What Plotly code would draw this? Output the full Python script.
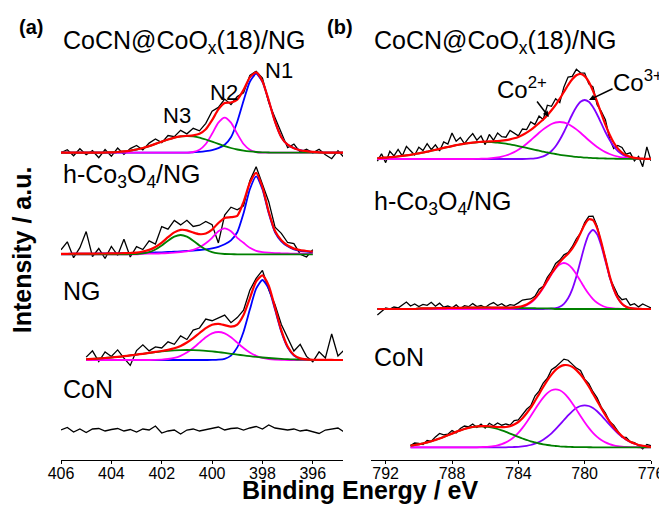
import numpy as np
import plotly.graph_objects as go

FONT = "Liberation Sans, Arial, Helvetica, sans-serif"
STEP = 0.25  # eV spacing of the sampled spectra

# ---------------- panel (a): N 1s ----------------
# CoCN@CoOx(18)/NG
a1_range = [406.0, 394.75]
a1_N1_start, a1_N1 = 400.75, [0.4, 0.8, 1.5, 2.5, 4.5, 8, 15.5, 31, 52, 71, 79, 71, 52, 31, 15.5, 8, 4.5, 2.5, 1.5, 0.8, 0.4]
a1_N2_start, a1_N2 = 401.0, [0.15, 0.7, 3.0, 8.7, 18.9, 30, 35, 30, 18.9, 8.7, 3.0, 0.7, 0.15]
a1_N3_start, a1_N3 = 404.25, [0.2, 0.4, 0.7, 1.3, 2.1, 3.2, 4.7, 6.6, 8.8, 11.1, 13.2, 15.1, 16.3, 16.7, 16.3, 15.1, 13.2, 11.1, 8.8, 6.6, 4.7, 3.2, 2.1, 1.3, 0.7, 0.4, 0.2]
a1_res = [0, 3, -3, 4, -2, 2, -5, 3, -4, 4, -3, 2, 4, -2, 3, 5, -1, 4, 1, 6, 2, 7, 3, 6, 9, 2, 4, -2, 3, -3,
          2, 1, 3, -2, 4, 5, -3, 4, -2, 2, -1, 3, -2, -6, 2, -5]

# h-Co3O4/NG
a2_range = [406.0, 396.0]
a2_N1_start, a2_N1 = 406.0, [0.5, 0.5, 0.6, 0.6, 0.7, 0.7, 0.8, 0.8, 0.9, 1.0, 1.1, 1.2, 1.3, 1.4, 1.6, 1.8, 2.0, 2.3, 2.6, 2.9,
                             3.3, 3.7, 4.3, 5, 6, 7.5, 10, 14, 22, 41, 65, 78, 65, 41, 22, 13, 8, 5, 3.5, 2.8, 2.3]
a2_N2_start, a2_N2 = 402.75, [0.5, 0.6, 0.7, 0.9, 1.2, 1.6, 2.2, 3, 4.5, 7, 11, 16.5, 23, 26, 23, 16.5, 11.5, 6.5, 3.5, 2.2,
                              1.6, 1.2, 1.0, 0.8, 0.7, 0.6, 0.5, 0.4]
a2_N3_start, a2_N3 = 403.25, [0.1, 0.3, 0.85, 2.2, 4.8, 8.8, 13.6, 17.7, 19.3, 17.7, 13.6, 8.8, 4.8, 2.2, 0.85, 0.3, 0.1]
a2_res = [4, 12, -4, 6, 22, -3, 5, -5, 7, -2, 14, -4, 6, 2, 9, 3, 16, 8, 12, 5, 10, 6, 9, 12, 5, -20, 3, 10, 6, -4,
          2, 6, 3, 10, 4, 7, 3, 5, -4, -6, 2]

# NG
a3_range = [405.0, 394.75]
a3_N1_start, a3_N1 = 400.0, [0.05, 0.3, 1.2, 4.4, 12.6, 28.3, 50.4, 71.3, 80, 71.3, 50.4, 28.3, 12.6, 4.4, 1.2, 0.3, 0.05]
a3_N2_start, a3_N2 = 402.25, [0.15, 0.4, 1.0, 2.1, 4.2, 7.5, 12.0, 17.4, 22.7, 26.6, 28, 26.6, 22.7, 17.4, 12.0, 7.5, 4.2,
                              2.1, 1.0, 0.4, 0.15]
a3_N3_start, a3_N3 = 405.0, [0.85, 1.1, 1.5, 2.0, 2.5, 3.1, 3.8, 4.6, 5.4, 6.2, 7.1, 7.9, 8.6, 9.2, 9.6, 9.9, 10, 9.9, 9.6,
                             9.2, 8.6, 7.9, 7.1, 6.2, 5.4, 4.6, 3.8, 3.1, 2.5, 2.0, 1.5, 1.1, 0.85, 0.6, 0.44, 0.3, 0.2,
                             0.13, 0.09, 0.05]
a3_res = [2, 8, -3, 6, 1, 7, -2, -10, 4, 9, 2, 5, 3, 8, 4, 10, 3, 8, 5, 9, 4, 6, 10, 4, 7, 5, 8, 3, 5, -4,
          3, 6, 9, 4, 14, 3, -2, 8, 2, 26, 4, 10]

# CoN (no N signal)
a4_range = [406.0, 394.75]
a4_res = [0, 2.5, -2, 1, -2.5, 1, 1.5, -1, 0.5, 1.5, -1, 0.5, -2, 1, 0, 4, -3, -1, 0, -4, 0, 1, -1, 0.5, 2, 3, 0,
          1.5, 2, 0, 2, 3.5, 1, 5, 2, 1, 0, 1, -1, 0, -2, -3.5, 0, 1, 2, -2]

a_offsets = [307.3, 205.7, 100.0, 30.0]
a_labels = ["CoCN@CoO<sub>x</sub>(18)/NG", "h-Co<sub>3</sub>O<sub>4</sub>/NG", "NG", "CoN"]
a_label_y = [418.0, 284.5, 169.5, 71.5]

# ---------------- panel (b): Co 2p3/2 ----------------
b1_range = [792.5, 776.0]
b1_Co3_start, b1_Co3 = 783.5, [0.12, 0.3, 0.65, 1.4, 2.6, 4.7, 8.0, 12.7, 19.2, 27.0, 35.8, 44.5, 52.0, 57.2, 59, 57.2, 52.0,
                               44.5, 35.8, 27.0, 19.2, 12.7, 8.0, 4.7, 2.6, 1.4, 0.65, 0.3, 0.12, 0.05, 0.02]
b1_Co2_start, b1_Co2 = 786.5, [0.14, 0.25, 0.4, 0.67, 1.06, 1.6, 2.4, 3.5, 5.0, 6.9, 9.2, 12.0, 15.2, 18.7, 22.5, 26.2, 29.6,
                               32.6, 35.0, 36.5, 37, 36.5, 35.0, 32.6, 29.6, 26.2, 22.5, 18.7, 15.2, 12.0, 9.2, 6.9, 5.0,
                               3.5, 2.4, 1.6, 1.06, 0.67, 0.4, 0.25, 0.14, 0.08, 0.04]
b1_sat_start, b1_sat = 792.5, [0.9, 1.2, 1.4, 1.8, 2.1, 2.6, 3.1, 3.6, 4.2, 5.0, 5.7, 6.5, 7.3, 8.3, 9.2, 10.1, 11.1, 12.0,
                               12.9, 13.8, 14.6, 15.3, 15.9, 16.4, 16.7, 16.9, 17.0, 16.9, 16.7, 16.4, 15.9, 15.3, 14.6,
                               13.8, 12.9, 12.0, 11.1, 10.1, 9.2, 8.3, 7.3, 6.5, 5.7, 5.0, 4.2, 3.6, 3.1, 2.6, 2.1, 1.8,
                               1.4, 1.2, 0.9, 0.77, 0.6, 0.48, 0.36, 0.29, 0.21, 0.17, 0.12, 0.09, 0.07, 0.05, 0.04, 0.03,
                               0.02]
b1_res = [-3, 4, -5, 6, 1, 7, 0, 9, 4, -1, 6, 2, 8, 1, 5, -2, 6, 3, 13, 4, 7, 0, 5, 9, 2, 6, -3, 7, 1, 8, 4, 3, 9, 5,
          1, 6, 3, 8, 2, 7, 0, 10, 4, 6, -4, 5, 8, 3, 6, 1, 3, -2, 4, -3, 2, 5, -4, -6, 3, 5, 1, 4, -3, 2, -8, 12, -2]

b2_range = [792.5, 776.0]
b2_Co3_start, b2_Co3 = 782.25, [0.1, 0.3, 0.87, 2.3, 5.2, 10.7, 19.7, 32.5, 48.0, 63.3, 74.7, 79, 74.7, 63.3, 48.0, 32.5,
                                19.7, 10.7, 5.2, 2.3, 0.87, 0.3, 0.1]
b2_Co2_start, b2_Co2 = 784.75, [0.1, 0.23, 0.5, 1.06, 2.0, 3.7, 6.2, 9.9, 15.0, 21.1, 27.9, 34.7, 40.6, 44.6, 46, 44.6,
                                40.6, 34.7, 27.9, 21.1, 15.0, 9.9, 6.2, 3.7, 2.0, 1.06, 0.5, 0.23, 0.1]
b2_sat_start, b2_sat = 790.0, [0.50, 0.56, 0.62, 0.69, 0.76, 0.83, 0.90, 0.98, 1.05, 1.13, 1.20, 1.28, 1.35, 1.40, 1.45,
                               1.49, 1.5, 1.49, 1.45, 1.40, 1.35, 1.28, 1.20, 1.13, 1.05, 0.98, 0.90, 0.83, 0.76, 0.69,
                               0.62, 0.56, 0.50]
b2_res = [-6, -2, 1, 0, 2, 1, 4, 7, 3, 5, 2, 4, 3, 6, 2, 5, 1, 2, 0, 3, -1, 2, 1, 4, 1, 2, 0, 3, 5, 2, 4, 1, 3, 2,
          4, 6, 5, 3, 2, 4, 1, 3, 2, 4, 2, 3, 1, 2, 3, 0, 2, 3, 4, 2, -1, 1, -2, 2, 3, 4, 8, 3, 5, 2, 5, 3, 1]

b3_range = [790.5, 776.0]
b3_Co3_start, b3_Co3 = 784.5, [0.17, 0.3, 0.5, 0.9, 1.5, 2.3, 3.6, 5.3, 7.6, 10.5, 14.0, 18.1, 22.6, 27.3, 31.9, 36.0, 39.2,
                               41.3, 42, 41.3, 39.2, 36.0, 31.9, 27.3, 22.6, 18.1, 14.0, 10.5, 7.6, 5.3, 3.6, 2.3, 1.5,
                               0.9, 0.5]
b3_Co2_start, b3_Co2 = 786.25, [0.23, 0.41, 0.73, 1.2, 2.0, 3.2, 4.9, 7.3, 10.4, 14.4, 19.4, 25.1, 31.3, 37.8, 44.1, 49.7,
                                54.2, 57.0, 58, 57.0, 54.2, 49.7, 44.1, 37.8, 31.3, 25.1, 19.4, 14.4, 10.4, 7.3, 4.9, 3.2,
                                2.0, 1.2, 0.73, 0.41, 0.23, 0.12, 0.06, 0.03, 0.015, 0.007]
b3_sat_start, b3_sat = 790.5, [1.7, 2.3, 3.0, 3.8, 4.9, 6.0, 7.4, 8.8, 10.4, 12.1, 13.7, 15.4, 16.9, 18.3, 19.4, 20.3, 20.8,
                               21, 20.8, 20.3, 19.4, 18.3, 16.9, 15.4, 13.7, 12.1, 10.4, 8.8, 7.4, 6.0, 4.9, 3.8, 3.0, 2.3,
                               1.7, 1.3, 0.9, 0.65, 0.46, 0.3, 0.2, 0.14, 0.09, 0.06]
b3_res = [0, 2, 1, -1, 2, 0, 3, 5, 2, 1, 3, -1, 2, 3, 1, 3, -1, 2, -2, 3, 1, 4, 2, 3, 1, 4, 2, 3, 4, 2, 5, 3, 4, 2,
          5, 3, 4, 6, 5, 3, 2, 4, 1, 3, 2, 3, 1, 2, 0, 2, 1, -1, 2, 0, 1, -1, -3, 2, 1]

b_offsets = [301.0, 151.0, 12.7]
b_labels = ["CoCN@CoO<sub>x</sub>(18)/NG", "h-Co<sub>3</sub>O<sub>4</sub>/NG", "CoN"]
b_label_y = [418.0, 257.0, 103.5]

C_A = ["#0000ff", "#ff00ff", "#008000"]       # N1, N2, N3
C_B = ["#8000ff", "#ff00ff", "#008000"]       # Co3+, Co2+, satellite


def make_grid(rng):
    n = int(round((rng[0] - rng[1]) / STEP)) + 1
    return np.round(rng[0] - STEP * np.arange(n), 3)


def on_grid(grid, start, vals):
    out = np.zeros(len(grid))
    i0 = int(round((grid[0] - start) / STEP))
    for k, v in enumerate(vals):
        j = i0 + k
        if 0 <= j < len(grid):
            out[j] = v
    return out


fig = go.Figure()


def add_spectrum(xa, ya, rng, offset, comps, colors, residual):
    grid = make_grid(rng)
    comp_arr = [on_grid(grid, s, v) for s, v in comps]
    fit = np.zeros(len(grid))
    for c in comp_arr:
        fit = fit + c
    data = fit + np.array(residual, dtype=float)
    fig.add_trace(go.Scatter(x=grid, y=data + offset, mode="lines", xaxis=xa, yaxis=ya,
                             line=dict(color="black", width=1.3), hoverinfo="skip"))
    if comps:
        for c, col in zip(comp_arr, colors):
            fig.add_trace(go.Scatter(x=grid, y=c + offset, mode="lines", xaxis=xa, yaxis=ya,
                                     line=dict(color=col, width=1.8, shape="spline", smoothing=0.6),
                                     hoverinfo="skip"))
        fig.add_trace(go.Scatter(x=grid, y=fit + offset, mode="lines", xaxis=xa, yaxis=ya,
                                 line=dict(color="#ff0000", width=2.2, shape="spline", smoothing=0.6),
                                 hoverinfo="skip"))


add_spectrum("x", "y", a1_range, a_offsets[0],
             [(a1_N1_start, a1_N1), (a1_N2_start, a1_N2), (a1_N3_start, a1_N3)], C_A, a1_res)
add_spectrum("x", "y", a2_range, a_offsets[1],
             [(a2_N1_start, a2_N1), (a2_N2_start, a2_N2), (a2_N3_start, a2_N3)], C_A, a2_res)
add_spectrum("x", "y", a3_range, a_offsets[2],
             [(a3_N1_start, a3_N1), (a3_N2_start, a3_N2), (a3_N3_start, a3_N3)], C_A, a3_res)
add_spectrum("x", "y", a4_range, a_offsets[3], [], [], a4_res)

add_spectrum("x2", "y2", b1_range, b_offsets[0],
             [(b1_Co3_start, b1_Co3), (b1_Co2_start, b1_Co2), (b1_sat_start, b1_sat)], C_B, b1_res)
add_spectrum("x2", "y2", b2_range, b_offsets[1],
             [(b2_Co3_start, b2_Co3), (b2_Co2_start, b2_Co2), (b2_sat_start, b2_sat)], C_B, b2_res)
add_spectrum("x2", "y2", b3_range, b_offsets[2],
             [(b3_Co3_start, b3_Co3), (b3_Co2_start, b3_Co2), (b3_sat_start, b3_sat)], C_B, b3_res)

ann = []
for txt, yy in zip(a_labels, a_label_y):
    ann.append(dict(x=406.0, y=yy, xref="x", yref="y", text=txt, showarrow=False, xanchor="left",
                    yanchor="middle", font=dict(family=FONT, size=25, color="black")))
for txt, yy in zip(b_labels, b_label_y):
    ann.append(dict(x=792.8, y=yy, xref="x2", yref="y2", text=txt, showarrow=False, xanchor="left",
                    yanchor="middle", font=dict(family=FONT, size=25, color="black")))

for txt, xx, yy in [("N1", 397.36, 389.5), ("N2", 399.52, 367.5), ("N3", 401.38, 345.0)]:
    ann.append(dict(x=xx, y=yy, xref="x", yref="y", text=txt, showarrow=False,
                    xanchor="center", yanchor="middle", font=dict(family=FONT, size=22, color="black")))

ann.append(dict(x=783.79, y=372, xref="x2", yref="y2", text="Co<sup>2+</sup>", showarrow=False,
                xanchor="center", yanchor="middle", font=dict(family=FONT, size=24, color="black")))
ann.append(dict(x=776.78, y=379, xref="x2", yref="y2", text="Co<sup>3+</sup>", showarrow=False,
                xanchor="center", yanchor="middle", font=dict(family=FONT, size=24, color="black")))
ann.append(dict(x=782.16, y=343, ax=782.94, ay=360, xref="x2", yref="y2", axref="x2", ayref="y2",
                text="", showarrow=True, arrowhead=2, arrowsize=0.8, arrowwidth=1.5, arrowcolor="black"))
ann.append(dict(x=779.74, y=360, ax=778.23, ay=372, xref="x2", yref="y2", axref="x2", ayref="y2",
                text="", showarrow=True, arrowhead=2, arrowsize=0.8, arrowwidth=1.5, arrowcolor="black"))

# page is rendered with an 8 px body margin: plot area spans page x 61..651, y 8..460
ann.append(dict(x=-0.0746, y=0.958, xref="paper", yref="paper", text="<b>(a)</b>", showarrow=False,
                xanchor="left", yanchor="middle", font=dict(family=FONT, size=20, color="black")))
ann.append(dict(x=0.4475, y=0.958, xref="paper", yref="paper", text="<b>(b)</b>", showarrow=False,
                xanchor="left", yanchor="middle", font=dict(family=FONT, size=20, color="black")))
ann.append(dict(x=-0.0661, y=0.464, xref="paper", yref="paper", text="<b>Intensity / a.u.</b>",
                showarrow=False, textangle=-90, xanchor="center", yanchor="middle",
                font=dict(family=FONT, size=25, color="black")))
ann.append(dict(x=0.5068, y=-0.067, xref="paper", yref="paper", text="<b>Binding Energy / eV</b>",
                showarrow=False, xanchor="center", yanchor="middle",
                font=dict(family=FONT, size=25, color="black")))

axis_common = dict(showline=True, linecolor="black", linewidth=1.3, ticks="outside", ticklen=3,
                   tickcolor="black", tickwidth=1.3, showgrid=False, zeroline=False,
                   ticklabelstandoff=-4,
                   tickfont=dict(family=FONT, size=16, color="black"))

fig.update_layout(
    width=659, height=497,
    margin=dict(l=53, r=16, t=0, b=45),
    paper_bgcolor="white", plot_bgcolor="white",
    showlegend=False,
    xaxis=dict(domain=[0, 0.478], range=[406, 394.8], tick0=406, dtick=2, anchor="y", **axis_common),
    yaxis=dict(domain=[0, 1], range=[0, 452], visible=False, anchor="x"),
    xaxis2=dict(domain=[0.525, 1], range=[792.9, 776], tick0=776, dtick=4, anchor="y2", **axis_common),
    yaxis2=dict(domain=[0, 1], range=[0, 452], visible=False, anchor="x2"),
    annotations=ann,
)

fig.write_html("out.html")
